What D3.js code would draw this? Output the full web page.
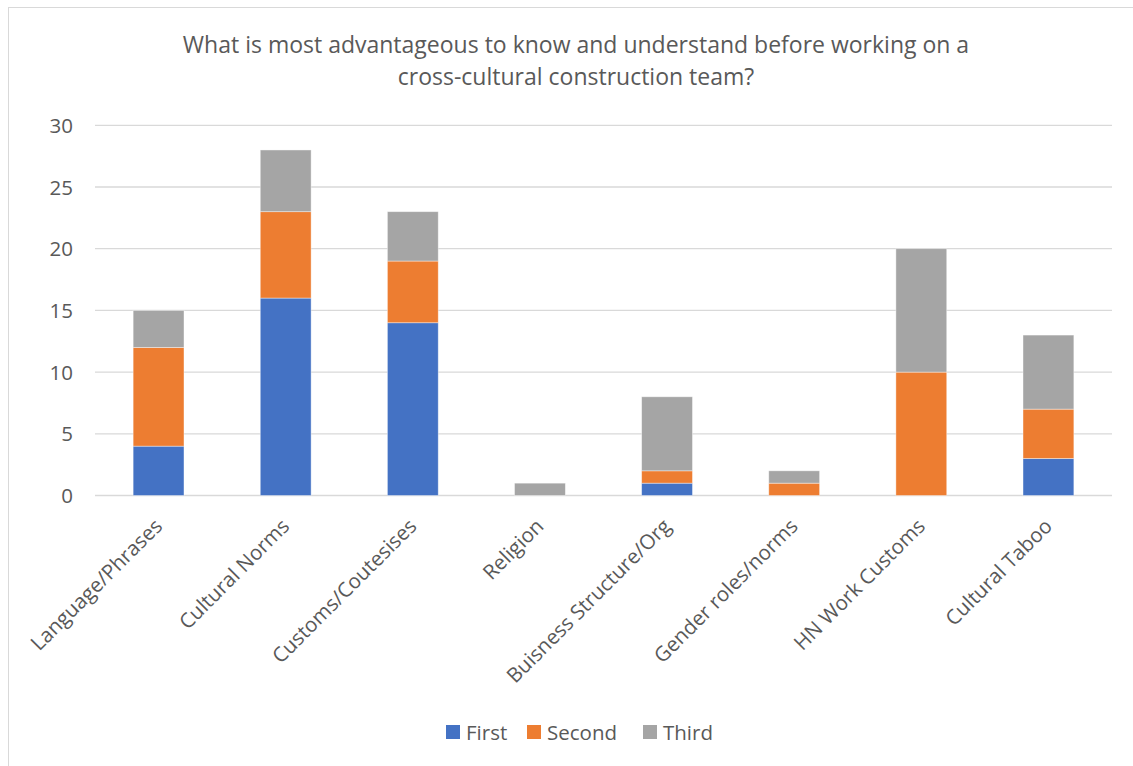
<!DOCTYPE html>
<html><head><meta charset="utf-8">
<script src="https://cdn.jsdelivr.net/npm/d3@7"></script>
<style>body{margin:0;background:#fff}text{font-family:"Open Sans",sans-serif;fill:#595959}</style>
</head><body><svg id="c" width="1133" height="766"></svg>
<script>
const categories = ["Language/Phrases","Cultural Norms","Customs/Coutesises","Religion","Buisness Structure/Org","Gender roles/norms","HN Work Customs","Cultural Taboo"];
const first  = [4,16,14,0,1,0,0,3];
const second = [8,7,5,0,1,1,10,4];
const third  = [3,5,4,1,6,1,10,6];
const seriesNames = ["First","Second","Third"];
const colors = ["#4472C4","#ED7D31","#A5A5A5"];
const yTicks = [0,5,10,15,20,25,30];
const titleLines = ["What is most advantageous to know and understand before working on a","cross-cultural construction team?"];

const svg = d3.select("#c");
svg.append("rect").attr("x",8.5).attr("y",7.5).attr("width",1140).attr("height",780)
  .attr("fill","none").attr("stroke","#d9d9d9");

const m = {l:95, r:1112, t:125.3, b:495.5};
const x = d3.scaleBand().domain(categories).range([m.l,m.r]).paddingInner(0.6).paddingOuter(0.3);
const y = d3.scaleLinear().domain([0,30]).range([m.b,m.t]);

// gridlines
svg.append("g").selectAll("line").data(yTicks).join("line")
  .attr("x1",m.l).attr("x2",m.r).attr("y1",d=>y(d)).attr("y2",d=>y(d))
  .attr("stroke","#d9d9d9").attr("stroke-width",1.3);

// y axis labels
const yAxis = d3.axisLeft(y).tickValues(yTicks).tickSize(0).tickPadding(22);
const ga = svg.append("g").attr("transform",`translate(${m.l},0)`).call(yAxis);
ga.select(".domain").remove();
ga.selectAll("text").style("font-size","20.5px").style("font-family","'Open Sans',sans-serif").attr("fill","#595959").attr("dy","0.35em");

// stacked bars
const table = categories.map((c,i)=>({cat:c,First:first[i],Second:second[i],Third:third[i]}));
const stack = d3.stack().keys(seriesNames)(table);
svg.append("g").selectAll("g").data(stack).join("g").attr("fill",(d,i)=>colors[i])
  .selectAll("rect").data(d=>d.filter(s=>s[1]-s[0]>0)).join("rect")
  .attr("x",d=>x(d.data.cat)).attr("width",x.bandwidth())
  .attr("y",d=>y(d[1])).attr("height",d=>y(d[0])-y(d[1]))
  .attr("stroke","#ffffff").attr("stroke-opacity",0.5).attr("stroke-width",0.8);

// x labels
svg.append("g").selectAll("text").data(categories).join("text")
  .attr("transform",d=>`translate(${x(d)+x.bandwidth()/2+5},${m.b+32}) rotate(-45)`)
  .attr("text-anchor","end").style("font-size","20.5px").text(d=>d);

// title
svg.append("g").selectAll("text").data(titleLines).join("text")
  .attr("x",576).attr("y",(d,i)=>52.5+i*32.7).attr("text-anchor","middle")
  .style("font-size","23px").text(d=>d);

// legend
const legX = [446,527,643];
const lg = svg.append("g").selectAll("g").data(seriesNames).join("g")
  .attr("transform",(d,i)=>`translate(${legX[i]},725)`);
lg.append("rect").attr("width",14).attr("height",14).attr("fill",(d,i)=>colors[i]);
lg.append("text").attr("x",20).attr("y",14.5).style("font-size","20.5px").text(d=>d);
</script></body></html>
